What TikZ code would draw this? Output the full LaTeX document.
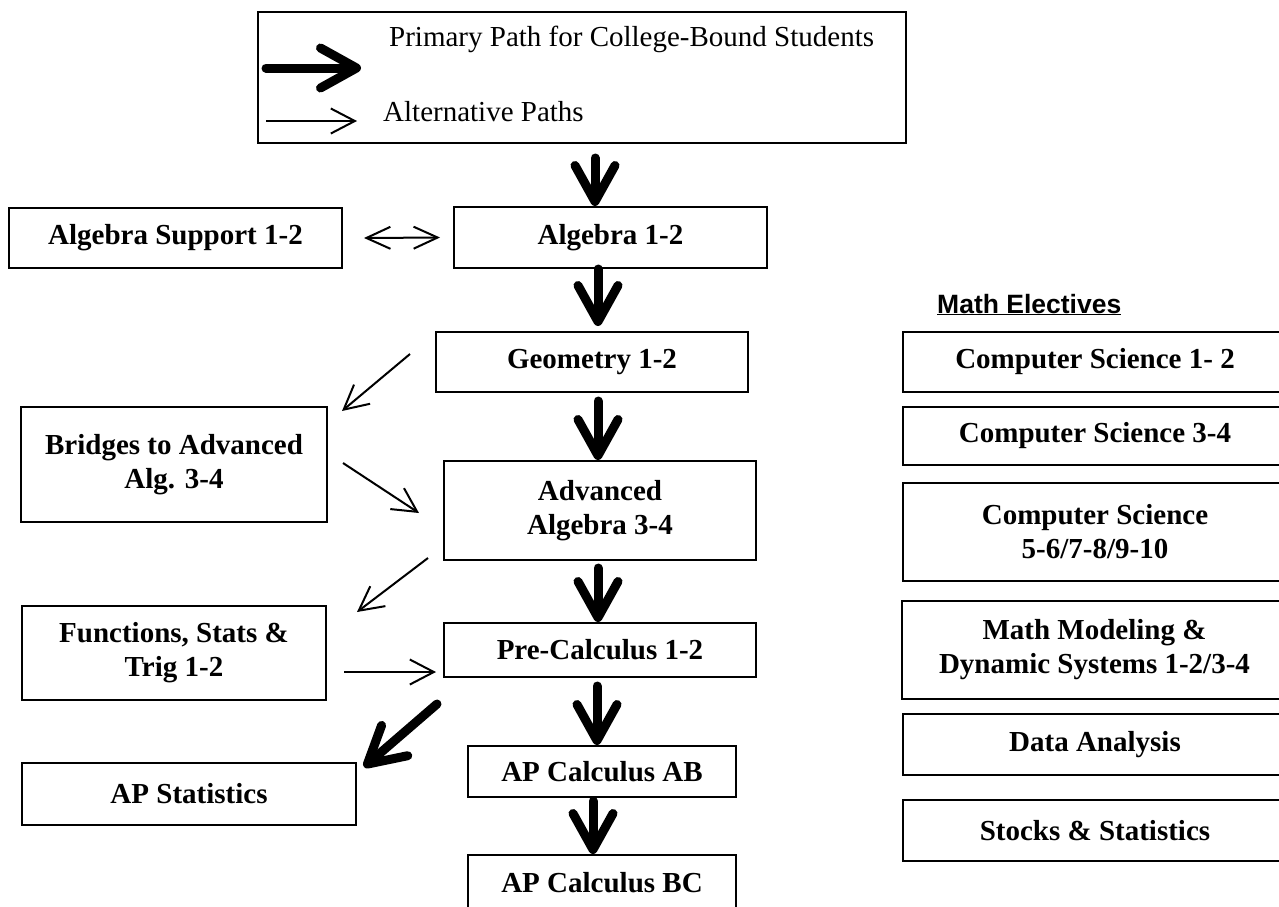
\documentclass[tikz,border=0pt]{standalone}
\usepackage{fontspec}
\setmainfont{Liberation Serif}
\newfontfamily\headfont{Liberation Sans}
\usetikzlibrary{arrows.meta}
\begin{document}
\begin{tikzpicture}[x=1pt,y=-1pt,
  course/.style={draw,line width=2pt,align=center,inner sep=0pt,
    font=\fontsize{29}{34}\selectfont\bfseries},
  primary/.style={line width=9pt,line cap=round,-{Straight Barb[length=36pt,width=40pt,round]}},
  alt/.style={line width=2pt,-{Straight Barb[length=24pt,width=25pt]}},
  altboth/.style={line width=2pt,{Straight Barb[length=24pt,width=22pt]}-{Straight Barb[length=24pt,width=22pt]}},
  legendtext/.style={anchor=base west,inner sep=0pt,font=\fontsize{29}{34}\selectfont}]
  \useasboundingbox (0,0) rectangle (1279,906);
  \clip (0,0) rectangle (1279,906);
  \node[draw,line width=2pt,minimum width=648pt,minimum height=131pt] (legend) at (582,77.5) {};
  \coordinate (pstart) at (266,68);
  \coordinate (pend) at (361,68);
  \coordinate (astart) at (266,121);
  \coordinate (aend) at (357,121);
  \draw[primary] (pstart) -- (pend);
  \draw[alt] (astart) -- (aend);
  \node[legendtext] (primarytext) at (389,46) {Primary Path for College-Bound Students};
  \node[legendtext] (alttext) at (383,121) {Alternative Paths};

  \node[course,minimum width=333pt,minimum height=60pt] (algsup) at (175.5,238) {Algebra Support 1-2};
  \node[course,minimum width=313pt,minimum height=61pt] (alg) at (610.5,237.5) {Algebra 1-2};
  \node[course,minimum width=312pt,minimum height=60pt] (geo) at (592,362) {Geometry 1-2};
  \node[course,minimum width=306pt,minimum height=115pt] (bridges) at (174,464.5) {Bridges to Advanced\\Alg. 3-4};
  \node[course,minimum width=312pt,minimum height=99pt] (adv) at (600,510.5) {Advanced\\Algebra 3-4};
  \node[course,minimum width=304pt,minimum height=94pt] (func) at (174,653) {Functions, Stats \&\\Trig 1-2};
  \node[course,minimum width=312pt,minimum height=54pt] (pre) at (600,650) {Pre-Calculus 1-2};
  \node[course,minimum width=334pt,minimum height=62pt] (apstat) at (189,794) {AP Statistics};
  \node[course,minimum width=268pt,minimum height=51pt] (ab) at (602,771.5) {AP Calculus AB};
  \node[course,minimum width=268pt,minimum height=56pt] (bc) at (602,883) {AP Calculus BC};

  \node[anchor=base west,inner sep=0pt,font=\headfont\bfseries\fontsize{26.5}{32}\selectfont] (electives) at (937,313) {\underline{Math Electives}};
  \node[course,minimum width=384pt,minimum height=60pt] (cs12) at (1095,362) {Computer Science 1- 2};
  \node[course,minimum width=384pt,minimum height=58pt] (cs34) at (1095,436) {Computer Science 3-4};
  \node[course,minimum width=384pt,minimum height=98pt] (cs56) at (1095,532) {Computer Science\\5-6/7-8/9-10};
  \node[course,minimum width=385pt,minimum height=98pt] (model) at (1094.5,650) {Math Modeling \&\\Dynamic Systems 1-2/3-4};
  \node[course,minimum width=384pt,minimum height=61pt] (data) at (1095,744.5) {Data Analysis};
  \node[course,minimum width=384pt,minimum height=61pt] (stocks) at (1095,830.5) {Stocks \& Statistics};

  \draw[primary] ([xshift=13pt,yshift=-14pt]legend.south) -- ([xshift=-15.5pt]alg.north);
  \draw[primary] ([xshift=-12.5pt]alg.south) -- ([xshift=6pt,yshift=5pt]geo.north);
  \draw[primary] ([xshift=6pt,yshift=-8pt]geo.south) -- ([xshift=-2pt]adv.north);
  \draw[primary] ([xshift=-2pt,yshift=-7pt]adv.south) -- ([xshift=-2pt]pre.north);
  \draw[primary] ([xshift=-3pt,yshift=-8pt]pre.south) -- ([xshift=-5pt]ab.north);
  \draw[primary] ([xshift=-9pt,yshift=-3pt]ab.south) -- ([xshift=-9pt]bc.north);
  \draw[primary] ([xshift=-6pt,yshift=-26pt]pre.south west) -- ([xshift=7pt,yshift=-5pt]apstat.north east);

  \draw[altboth] ([xshift=21pt]algsup.east) -- ([xshift=-13pt]alg.west);
  \draw[alt] ([xshift=-25pt,yshift=8pt]geo.west) -- ([xshift=14pt,yshift=-5pt]bridges.north east);
  \draw[alt] ([xshift=15pt,yshift=1.5pt]bridges.east) -- ([xshift=-24pt,yshift=-2.5pt]adv.west);
  \draw[alt] ([xshift=-15pt,yshift=3pt]adv.south west) -- ([xshift=30pt,yshift=-7pt]func.north east);
  \draw[alt] ([xshift=17pt,yshift=-19pt]func.east) -- ([xshift=-7pt,yshift=-22pt]pre.west);
\end{tikzpicture}
\end{document}
